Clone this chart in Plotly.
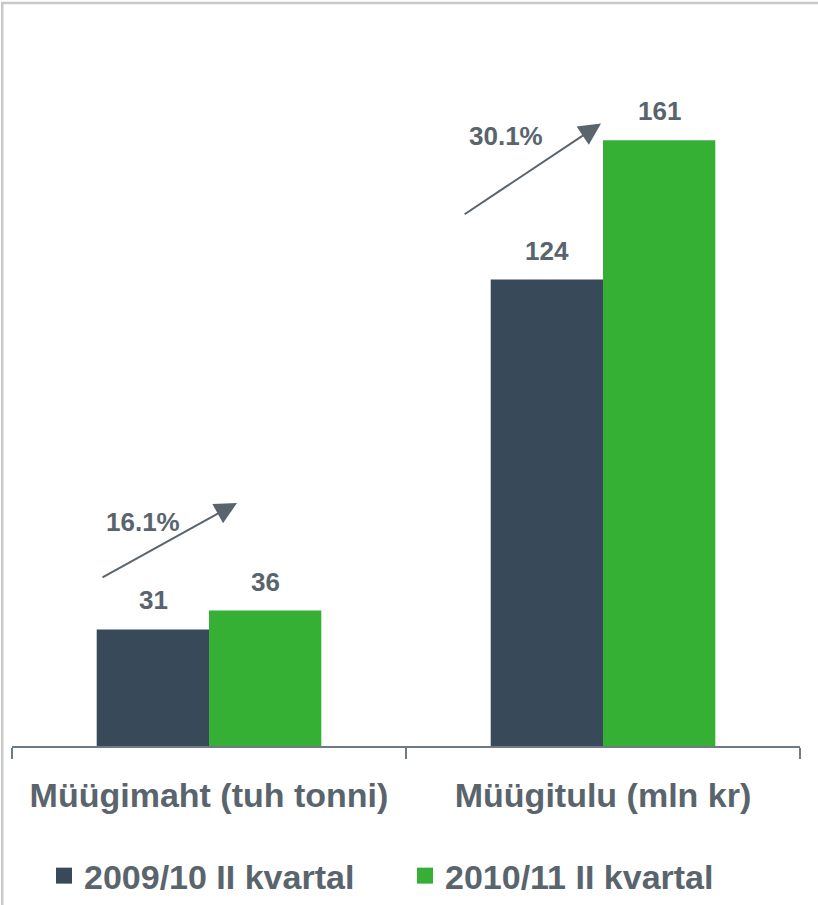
import plotly.graph_objects as go

categories = ["Müügimaht (tuh tonni)", "Müügitulu (mln kr)"]
series_names = ["2009/10 II kvartal", "2010/11 II kvartal"]
values_2009 = [31, 124]
values_2010 = [36, 161]
growth_labels = ["16.1%", "30.1%"]

DARK = "#384a5a"
GREEN = "#35b035"
TEXT = "#59646d"
AXIS = "#6f7b84"
FONT = "Liberation Sans, Arial, sans-serif"

fig = go.Figure()

for name, vals, color in [
    (series_names[0], values_2009, DARK),
    (series_names[1], values_2010, GREEN),
]:
    fig.add_trace(
        go.Bar(
            x=categories,
            y=vals,
            name=name,
            marker=dict(color=color, line=dict(width=0)),
            showlegend=False,
        )
    )
    # legend entry with a bigger square swatch
    fig.add_trace(
        go.Scatter(
            x=[None],
            y=[None],
            mode="markers",
            name=name,
            marker=dict(symbol="square", size=22, color=color),
        )
    )

# value labels above the bars
offsets = [-56, 56]
for vals, dx in zip([values_2009, values_2010], offsets):
    for cat, v in zip(categories, vals):
        fig.add_annotation(
            x=cat,
            y=v,
            text=f"<b>{v}</b>",
            showarrow=False,
            xshift=dx,
            yanchor="bottom",
            yshift=12,
            font=dict(family=FONT, size=26, color=TEXT),
        )

# growth arrows
arrows = [
    dict(tail=(-0.274, 44.6), head=(0.071, 64.6), label=(-0.168, 59.5)),
    dict(tail=(0.645, 141.1), head=(0.995, 165.5), label=(0.754, 162.2)),
]
for a, txt in zip(arrows, growth_labels):
    fig.add_annotation(
        x=a["head"][0],
        y=a["head"][1],
        ax=a["tail"][0],
        ay=a["tail"][1],
        xref="x",
        yref="y",
        axref="x",
        ayref="y",
        text="",
        showarrow=True,
        arrowhead=2,
        arrowsize=2.2,
        arrowwidth=2,
        arrowcolor=TEXT,
    )
    fig.add_annotation(
        x=a["label"][0],
        y=a["label"][1],
        text=f"<b>{txt}</b>",
        showarrow=False,
        font=dict(family=FONT, size=26, color=TEXT),
    )

# outer frame (runs off the right and bottom edges)
fig.add_shape(
    type="rect",
    xref="paper",
    yref="paper",
    x0=-0.0124,
    x1=1.1,
    y0=-0.3,
    y1=1.0234,
    line=dict(color="#c8c8c8", width=2.5),
    layer="below",
)

fig.update_layout(
    width=818,
    height=905,
    margin=dict(l=12, r=18, t=20, b=159),
    paper_bgcolor="white",
    plot_bgcolor="white",
    barmode="group",
    bargap=0.43,
    bargroupgap=0,
    font=dict(family=FONT, color=TEXT),
    showlegend=True,
    legend=dict(
        orientation="h",
        xref="container",
        yref="container",
        x=0.0538,
        xanchor="left",
        y=0.032,
        yanchor="middle",
        entrywidth=316,
        entrywidthmode="pixels",
        itemsizing="trace",
        font=dict(family=FONT, size=34, color=TEXT, weight="bold"),
        bgcolor="rgba(0,0,0,0)",
    ),
    xaxis=dict(
        type="category",
        range=[-0.5, 1.5],
        showline=True,
        linecolor=AXIS,
        linewidth=2,
        ticks="outside",
        tickson="boundaries",
        ticklen=11,
        tickwidth=2,
        tickcolor=AXIS,
        showgrid=False,
        ticklabelstandoff=18,
        tickfont=dict(family=FONT, size=34, color=TEXT, weight="bold"),
    ),
    yaxis=dict(
        range=[0, 193],
        visible=False,
        showgrid=False,
        zeroline=False,
    ),
)

fig.write_html(
    "out.html",
    config={"displayModeBar": False},
    post_script="document.body.style.margin='0';",
)
